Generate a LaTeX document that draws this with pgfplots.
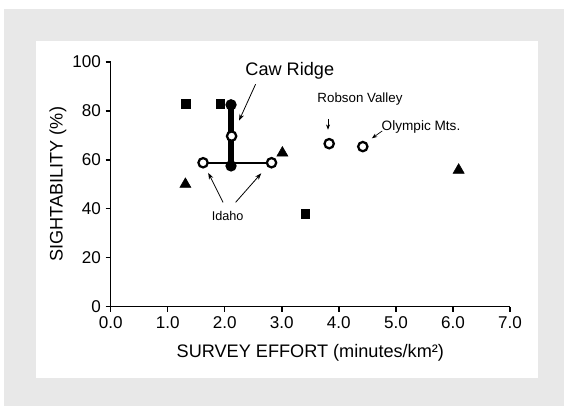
\documentclass[border=0pt]{standalone}
\usepackage{fontspec}
\setmainfont{Liberation Sans}
\usepackage{pgfplots}
\pgfplotsset{compat=1.18}
\usetikzlibrary{arrows.meta}
\definecolor{bggray}{RGB}{232,232,232}
\begin{document}
\begin{tikzpicture}
% background panels
\fill[white] (-83pt,-74.6pt) rectangle (340pt,229.9pt);
\fill[bggray] (-80pt,-74.6pt) rectangle (340pt,223.1pt);
\fill[white] (-56pt,-53.6pt) rectangle (320.5pt,199.1pt);
\begin{axis}[
  at={(0,0)}, anchor=south west,
  scale only axis, width=299.5pt, height=183.4pt,
  xmin=0, xmax=7, ymin=0, ymax=100,
  axis lines=left,
  axis line style={-, line width=1.1pt},
  tick align=outside, major tick length=3.75pt,
  tick style={line width=1.1pt, black},
  xtick={0,1,...,7}, ytick={0,20,...,100},
  /pgf/number format/assume math mode=true,
  x tick label style={/pgf/number format/.cd, fixed, fixed zerofill, precision=1},
  tick label style={font=\fontsize{12.8}{14}\selectfont},
  xlabel style={font=\fontsize{13.6}{15}\selectfont, at={(axis description cs:0.5,-0.191)}, anchor=center},
  ylabel style={font=\fontsize{13.6}{15}\selectfont, at={(axis description cs:-0.132,0.5)}, anchor=center},
  xlabel={SURVEY EFFORT (minutes/km²)},
  ylabel={SIGHTABILITY (\%)},
  clip=false,
]
% Caw Ridge range
\addplot[black, line width=4pt, line cap=round, mark=*, mark size=2.1pt, mark options={draw=none, fill=black}] coordinates {(2.11,57.5) (2.11,82.5)};
% Idaho range
\addplot[black, line width=1.5pt] coordinates {(1.62,58.8) (2.82,58.8)};
% squares
\addplot[only marks, mark=square*, mark size=3.3pt, black] coordinates {
  (1.32,83) (1.92,83) (3.41,38)
};
% triangles
\addplot[only marks, mark=triangle*, mark size=4.8pt, black] coordinates {
  (1.31,50) (3.01,62.8) (6.10,55.8)
};
% open circles
\addplot[only marks, mark=*, mark size=3.5pt, mark options={fill=white, draw=black, line width=1.7pt}] coordinates {
  (1.62,58.8) (2.82,58.8) (2.12,69.7) (3.83,66.6) (4.42,65.4)
};
% annotations
\node[font=\fontsize{13.6}{15}\selectfont] at (axis cs:3.14,96.4) {Caw Ridge};
\draw[-{Stealth[length=5pt,width=3.5pt]}, line width=0.6pt] (axis cs:2.54,90.9) -- (axis cs:2.25,76);
\node[font=\fontsize{10}{12}\selectfont] at (axis cs:4.37,84.9) {Robson Valley};
\draw[-{Stealth[length=4pt,width=3pt]}, line width=0.5pt] (axis cs:3.81,76.7) -- (axis cs:3.81,72.3);
\node[font=\fontsize{10.2}{12}\selectfont] at (axis cs:5.44,73.5) {Olympic Mts.};
\draw[-{Stealth[length=4pt,width=3pt]}, line width=0.5pt] (axis cs:4.76,71.8) -- (axis cs:4.58,68.8);
\node[font=\fontsize{9.5}{11}\selectfont] at (axis cs:2.05,37) {Idaho};
\draw[-{Stealth[length=5pt,width=3.5pt]}, line width=0.6pt] (axis cs:1.97,42.6) -- (axis cs:1.71,54.7);
\draw[-{Stealth[length=5pt,width=3.5pt]}, line width=0.6pt] (axis cs:2.19,42.6) -- (axis cs:2.64,54.5);
\end{axis}
\pgfresetboundingbox
\useasboundingbox (-83pt,-74.6pt) rectangle (340pt,229.9pt);
\end{tikzpicture}
\end{document}
